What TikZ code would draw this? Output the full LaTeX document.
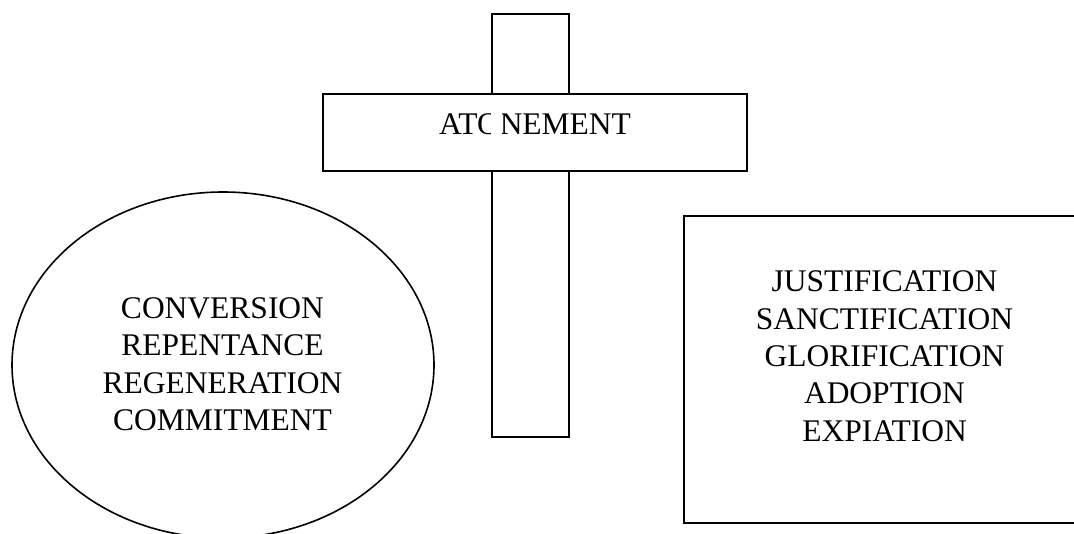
\documentclass[tikz,border=0pt]{standalone}
\usepackage{fontspec}
\setmainfont{Liberation Serif}
\tikzset{
  shape line/.style={draw=black, line width=1.6pt, fill=white},
  lbl/.style={anchor=base, inner sep=0pt, font=\fontsize{31.5}{37.3}\selectfont}
}
\begin{document}
\begin{tikzpicture}[x=1pt,y=-1pt]
\clip (0,0) rectangle (1074,533);
\fill[white] (0,0) rectangle (1074,533);
% cross
\draw[shape line] (492,14) rectangle (569,437);
\draw[shape line] (323,94) rectangle (747,171);
\node[lbl] (atone) at (535,134) {ATONEMENT};
\fill[white] (490.5,108) rectangle (501.5,140);
% ellipse
\draw[shape line] (223,365) ellipse [x radius=211, y radius=173];
\node[lbl] (e1) at (222.5,318) {CONVERSION};
\node[lbl] (e2) at (222.5,355.5) {REPENTANCE};
\node[lbl] (e3) at (222.5,393) {REGENERATION};
\node[lbl] (e4) at (222.5,430.5) {COMMITMENT};
% rectangle
\draw[shape line] (684,216) rectangle (1090,523);
\node[lbl] (r1) at (884.5,291.7) {JUSTIFICATION};
\node[lbl] (r2) at (884.5,329) {SANCTIFICATION};
\node[lbl] (r3) at (884.5,366.3) {GLORIFICATION};
\node[lbl] (r4) at (884.5,403.6) {ADOPTION};
\node[lbl] (r5) at (884.5,441) {EXPIATION};
\end{tikzpicture}
\end{document}
